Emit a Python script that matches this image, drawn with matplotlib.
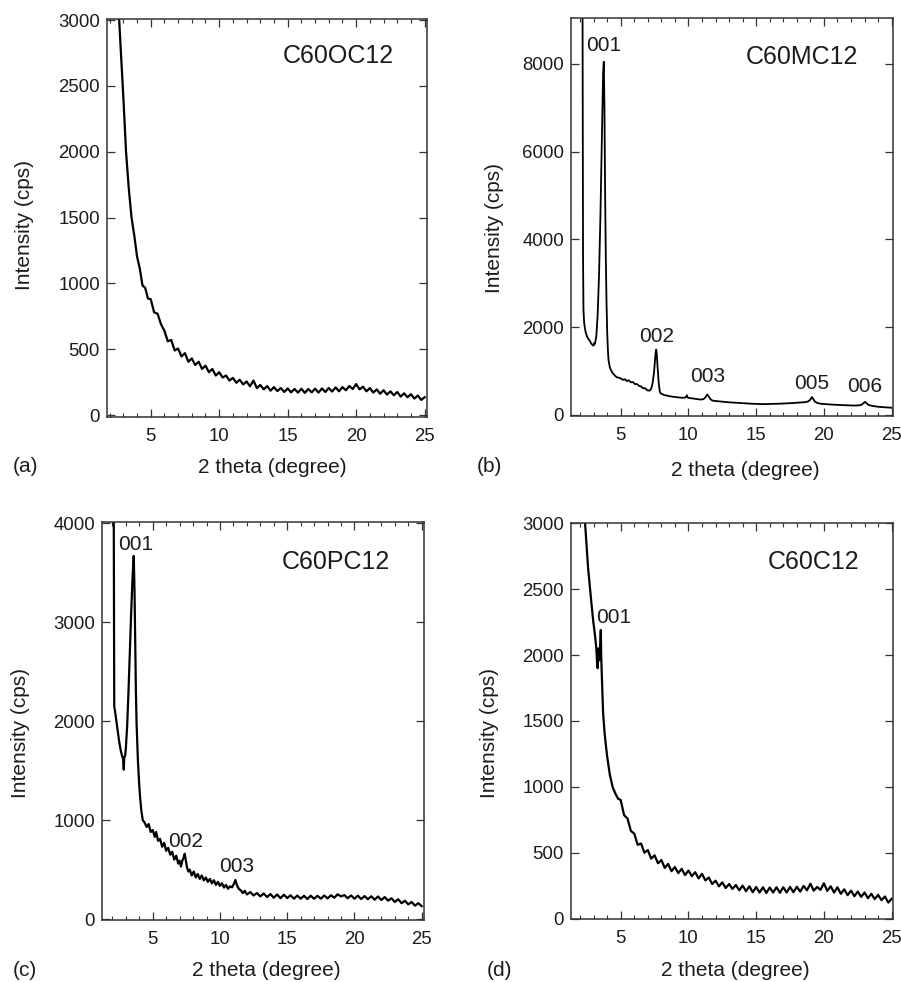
import numpy as np
import matplotlib
matplotlib.use("Agg")
import matplotlib.pyplot as plt
from matplotlib.ticker import MultipleLocator

plt.rcParams['font.family'] = ['Liberation Sans', 'DejaVu Sans']

# ---------------- data ----------------
grid_tail = [5.00 + 0.25 * i for i in range(81)]  # 5.00 ... 25.00 scan points

# (a) C60OC12
a_tt = [2.60, 2.80, 3.00, 3.20, 3.40, 3.60, 3.80, 4.00, 4.20, 4.40, 4.60, 4.80] + grid_tail
a_cps = [3200, 2800, 2420, 2000, 1720, 1500, 1365, 1205, 1115, 985, 965, 885,
         880, 780, 770, 690, 640, 560, 570, 490, 505, 445, 470, 405, 430, 380, 405, 350,
         375, 325, 350, 300, 325, 285, 300, 262, 282, 245, 268, 232, 255, 218, 262, 205,
         228, 195, 220, 185, 212, 182, 205, 175, 202, 172, 198, 170, 200, 168, 198, 172,
         200, 170, 202, 175, 205, 178, 210, 180, 212, 188, 220, 198, 235, 195, 215, 180,
         205, 170, 195, 162, 188, 155, 180, 150, 175, 140, 165, 135, 158, 125, 148, 115, 135]

# (b) C60MC12
b_tt = [2.18, 2.20, 2.22, 2.25, 2.30, 2.40, 2.50, 2.60, 2.70, 2.80, 2.90, 3.00, 3.05, 3.10,
        3.20, 3.30, 3.40, 3.50, 3.60, 3.70, 3.75, 3.80, 3.85, 3.90, 3.95, 4.00, 4.05, 4.10,
        4.20, 4.35, 4.50, 4.70, 4.85, 5.00, 5.15, 5.30, 5.45, 5.60, 5.75, 5.90, 6.05, 6.20,
        6.35, 6.50, 6.65, 6.80, 6.95, 7.05, 7.15, 7.25, 7.35, 7.45, 7.52, 7.58, 7.62, 7.66,
        7.72, 7.80, 7.88, 7.95, 8.10, 8.25, 8.40, 8.55, 8.70, 8.85, 9.00, 9.20, 9.40, 9.60,
        9.80, 9.88, 9.95, 10.10, 10.30, 10.50, 10.70, 10.90, 11.10, 11.25, 11.38, 11.48,
        11.60, 11.75, 11.95, 12.20, 12.45, 12.70, 12.95, 13.20, 13.50, 13.80, 14.10, 14.40,
        14.70, 15.00, 15.30, 15.60, 15.90, 16.20, 16.50, 16.80, 17.10, 17.40, 17.70, 18.00,
        18.30, 18.60, 18.85, 19.00, 19.10, 19.20, 19.35, 19.55, 19.80, 20.10, 20.40, 20.70,
        21.00, 21.30, 21.60, 21.90, 22.20, 22.50, 22.75, 22.90, 23.03, 23.15, 23.30, 23.60,
        23.90, 24.20, 24.50, 24.80, 25.00]
b_cps = [9500, 6000, 3500, 2400, 2100, 1900, 1800, 1740, 1700, 1640, 1600, 1580, 1640, 1620,
         1800, 2300, 3200, 4500, 6200, 7800, 8050, 7000, 5000, 3600, 2600, 1900, 1500, 1250,
         1080, 980, 920, 860, 850, 835, 800, 815, 775, 790, 745, 750, 705, 705,
         665, 650, 610, 610, 565, 555, 560, 600, 720, 950, 1200, 1420, 1490, 1400,
         1100, 750, 540, 490, 470, 450, 445, 430, 425, 415, 412, 402, 398, 392,
         400, 450, 395, 385, 378, 368, 360, 352, 360, 400, 470, 430,
         370, 330, 320, 312, 305, 298, 290, 285, 278, 272, 266, 262,
         256, 252, 250, 248, 250, 252, 255, 258, 262, 265, 272, 280,
         285, 292, 310, 350, 410, 370, 300, 270, 255, 248, 242, 235,
         230, 226, 222, 218, 215, 218, 230, 262, 300, 268, 228, 205,
         192, 182, 175, 168, 165]

# (c) C60PC12
c_tt = [2.10, 2.12, 2.14, 2.20, 2.30, 2.40, 2.50, 2.60, 2.70, 2.80, 2.85, 2.88, 2.95, 3.00,
        3.10, 3.20, 3.30, 3.40, 3.50, 3.59, 3.65, 3.70, 3.75, 3.80, 3.90, 4.00, 4.06, 4.15,
        4.26, 4.40, 4.55, 4.70, 4.85, 5.00, 5.15, 5.25, 5.40, 5.55, 5.70, 5.85, 6.00, 6.15,
        6.30, 6.45, 6.60, 6.75, 6.90, 7.00, 7.10, 7.20, 7.30, 7.38, 7.45, 7.55, 7.65, 7.75,
        7.90, 8.05, 8.20, 8.35, 8.50, 8.65, 8.80, 8.95, 9.10, 9.25, 9.40, 9.55, 9.70, 9.85,
        10.00, 10.15, 10.30, 10.45, 10.60, 10.75, 10.90, 11.05, 11.15, 11.25, 11.40, 11.55,
        11.70, 11.85, 12.00, 12.25, 12.50, 12.75, 13.00, 13.25, 13.50, 13.75, 14.00, 14.25,
        14.50, 14.75, 15.00, 15.25, 15.50, 15.75, 16.00, 16.25, 16.50, 16.75, 17.00, 17.25,
        17.50, 17.75, 18.00, 18.25, 18.50, 18.75, 19.00, 19.25, 19.50, 19.75, 20.00, 20.25,
        20.50, 20.75, 21.00, 21.25, 21.50, 21.75, 22.00, 22.25, 22.50, 22.75, 23.00, 23.25,
        23.50, 23.75, 24.00, 24.25, 24.50, 24.75, 25.00]
c_cps = [4300, 3000, 2150, 2100, 2000, 1900, 1800, 1720, 1660, 1620, 1510, 1630, 1650, 1720,
         1950, 2300, 2700, 3100, 3450, 3670, 3300, 2800, 2300, 1980, 1600, 1350, 1236, 1100,
         1000, 975, 930, 960, 880, 900, 830, 880, 790, 810, 730, 770, 690, 720,
         650, 680, 600, 640, 560, 590, 530, 590, 620, 660, 600, 520, 480, 500,
         440, 480, 420, 455, 405, 440, 390, 420, 375, 405, 360, 392, 345, 375,
         335, 362, 318, 345, 305, 330, 320, 360, 395, 345, 305, 290,
         262, 285, 248, 272, 238, 262, 228, 258, 222, 252, 215, 248,
         210, 245, 212, 240, 205, 238, 205, 235, 202, 236, 204, 235,
         205, 238, 208, 240, 215, 250, 228, 242, 210, 238, 205, 236,
         202, 232, 200, 230, 195, 228, 192, 222, 185, 210, 172, 200,
         160, 185, 148, 172, 135, 160, 130]

# (d) C60C12
d_tt = [2.30, 2.37, 2.50, 2.60, 2.74, 2.85, 2.98, 3.10, 3.20, 3.25, 3.30, 3.35, 3.40, 3.45,
        3.50, 3.53, 3.56, 3.62, 3.70, 3.80, 3.90, 4.00, 4.20, 4.40, 4.60, 4.80] + grid_tail
d_cps = [3200, 3000, 2800, 2650, 2500, 2380, 2250, 2150, 2050, 1950, 1900, 2050, 1960, 2020,
         2100, 2190, 1990, 1800, 1560, 1420, 1320, 1230, 1090, 1000, 950, 910,
         900, 785, 760, 665, 645, 560, 570, 500, 520, 455, 480, 420, 445, 385, 415, 360,
         392, 345, 378, 330, 365, 322, 352, 305, 340, 290, 312, 262, 288, 245, 275, 232,
         262, 225, 255, 215, 250, 208, 245, 200, 240, 198, 238, 195, 236, 198, 238, 196,
         238, 198, 240, 200, 242, 205, 248, 215, 265, 212, 240, 218, 268, 210, 245, 198,
         238, 188, 222, 178, 212, 170, 205, 165, 198, 155, 188, 148, 180, 140, 168, 122, 150]

names = ["C60OC12", "C60MC12", "C60PC12", "C60C12"]
letters = ["(a)", "(b)", "(c)", "(d)"]
yticks_list = [[0, 500, 1000, 1500, 2000, 2500, 3000],
               [0, 2000, 4000, 6000, 8000],
               [0, 1000, 2000, 3000, 4000],
               [0, 500, 1000, 1500, 2000, 2500, 3000]]
xticks = [5, 10, 15, 20, 25]
peak_labels = [[],
               ["001", "002", "003", "005", "006"],
               ["001", "002", "003"],
               ["001"]]

# ---------------- layout / style ----------------
W, H = 901, 982
fig = plt.figure(figsize=(W / 100, H / 100), dpi=100)
tc = "#1c1c1c"

def frac(l, t, r, b):
    return [l / W, 1 - b / H, (r - l) / W, (b - t) / H]

rects = [frac(107, 19, 427, 417), frac(571, 18, 893, 416),
         frac(102, 522, 424, 920), frac(571, 523, 893, 919)]
xlims = [(1.81, 25.17), (1.33, 25.1), (1.23, 25.17), (1.33, 25.1)]
ylims = [(-15, 3008), (-23, 9047), (-10, 4013), (-3, 3002)]
name_pos = [(18.67, 2726), (18.38, 8166), (18.65, 3612), (19.24, 2709)]
peak_pos = [[],
            [(3.77, 8409), (7.66, 1785), (11.44, 873), (19.1, 722), (23.03, 645)],
            [(3.74, 3790), (7.48, 781), (11.24, 529)],
            [(4.5, 2284)]]
xlab_pos = [(0.516, -0.126), (0.54, -0.136), (0.509, -0.126), (0.509, -0.129)]
ylab_pos = [(-0.259, 0.482), (-0.239, 0.472), (-0.252, 0.47), (-0.252, 0.47)]
letter_pos = [(13, 467), (477, 467), (13, 970), (487, 970)]
line_w = [1.6, 1.3, 1.6, 1.6]

series = [(a_tt, a_cps), (b_tt, b_cps), (c_tt, c_cps), (d_tt, d_cps)]

for i in range(4):
    ax = fig.add_axes(rects[i])
    tt, cps = series[i]
    ax.plot(tt, cps, color="black", lw=line_w[i], solid_joinstyle="round")
    ax.set_xlim(*xlims[i])
    ax.set_ylim(*ylims[i])
    ax.set_xticks(xticks)
    ax.set_yticks(yticks_list[i])
    ax.xaxis.set_minor_locator(MultipleLocator(1))
    ax.tick_params(which="both", direction="in", top=True, right=True,
                   color="#333333", labelcolor=tc, labelsize=13.4)
    ax.tick_params(which="major", length=6, width=0.9)
    ax.tick_params(which="minor", length=3, width=0.8)
    ax.tick_params(axis="y", which="minor", left=False, right=False)
    ax.tick_params(axis="x", pad=8)
    ax.tick_params(axis="y", pad=5)
    for sp in ax.spines.values():
        sp.set_color("#333333")
        sp.set_linewidth(1.1)
    ax.set_xlabel("2 theta (degree)", fontsize=15, color=tc, va="center")
    ax.xaxis.set_label_coords(*xlab_pos[i])
    ax.set_ylabel("Intensity (cps)", fontsize=15, color=tc, va="center")
    ax.yaxis.set_label_coords(*ylab_pos[i])
    ax.text(name_pos[i][0], name_pos[i][1], names[i], fontsize=18, color=tc,
            ha="center", va="center")
    for lab, (px, py) in zip(peak_labels[i], peak_pos[i]):
        ax.text(px, py, lab, fontsize=15, color=tc, ha="center", va="center")
    fig.text(letter_pos[i][0] / W, 1 - letter_pos[i][1] / H, letters[i],
             fontsize=15, color=tc, ha="left", va="center")

fig.savefig("out.png", dpi=100, facecolor="white")
